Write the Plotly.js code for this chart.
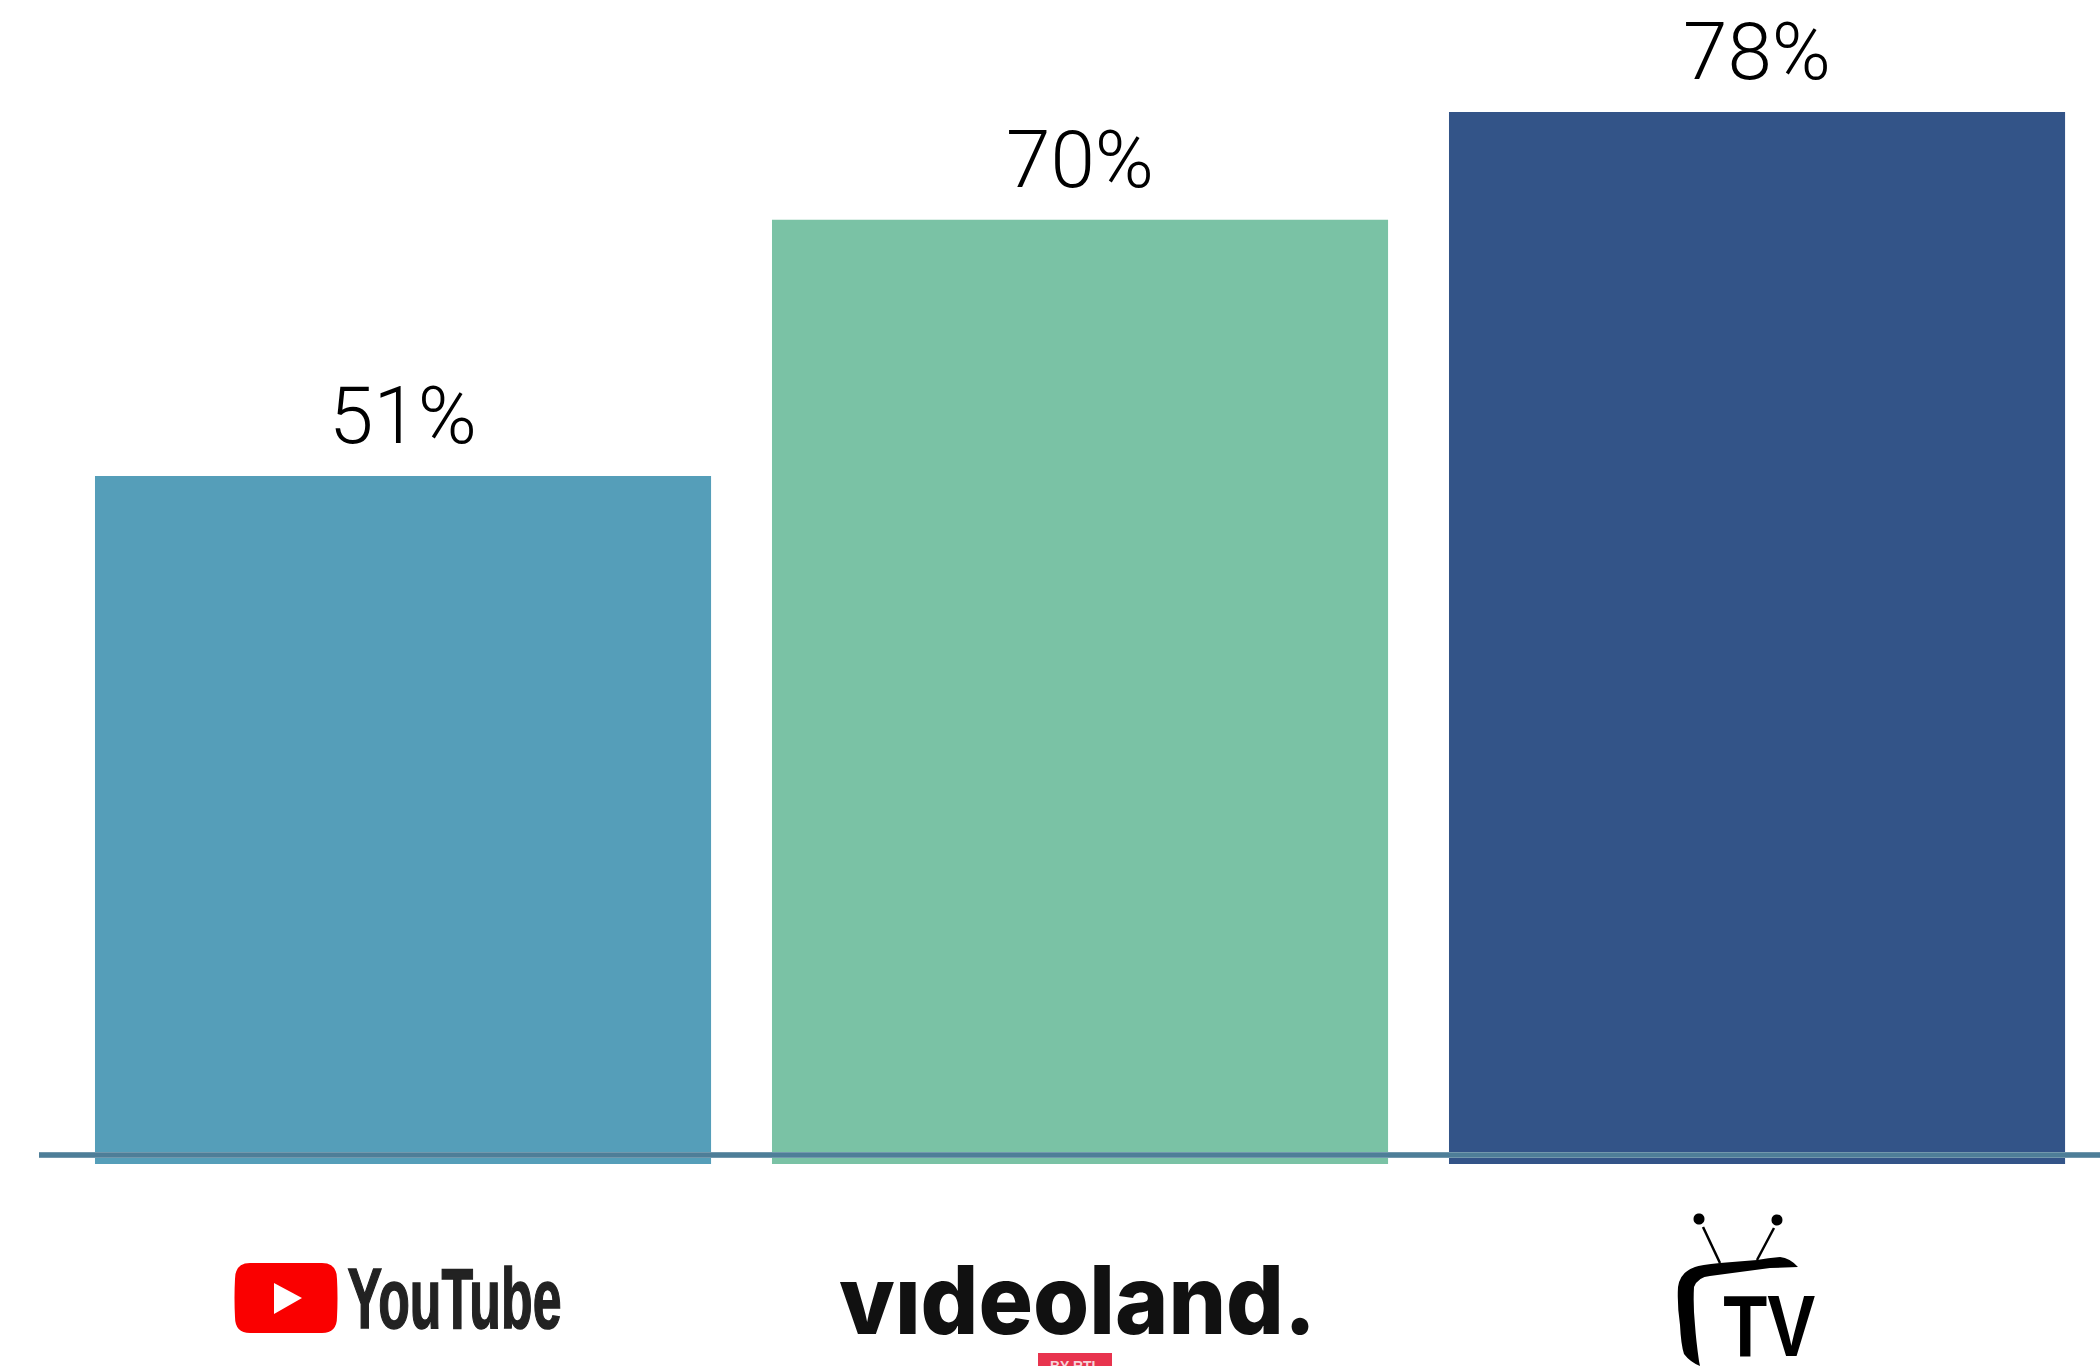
<!DOCTYPE html>
<html>
<head>
<meta charset="utf-8">
<script src="https://cdn.plot.ly/plotly-3.0.1.min.js"></script>
<style>
  html, body { margin: 0; padding: 0; background: #fff; overflow: hidden; }
  #chart { width: 2100px; height: 1366px; }
</style>
</head>
<body>
<div id="chart"></div>
<script>
// Share of viewers per platform
const categories = ["YouTube", "videoland.", "TV"];
const shares = [51, 70, 78];
const barColors = ["#559EB9", "#7AC2A5", "#335488"];

const W = 2100, H = 1366;
const M = { l: 39, r: 0, t: 0, b: 202 };
const plotW = W - M.l - M.r, plotH = H - M.t - M.b;

// Pixel position on the page to paper fractions, used for the brand marks under the axis.
const px = x => +((x - M.l) / plotW).toFixed(5);
const py = y => +((H - M.b - y) / plotH).toFixed(5);
const pathOf = d => d.replace(/(-?[\d.]+) (-?[\d.]+)/g, (_, x, y) => px(+x) + " " + py(+y));

const mark = (d, fill) => ({
  type: "path", xref: "paper", yref: "paper", layer: "above",
  path: pathOf(d), fillcolor: fill, line: { width: 0 }
});
const stroke = (d, color, width) => ({
  type: "path", xref: "paper", yref: "paper", layer: "above",
  path: pathOf(d), line: { color: color, width: width }
});
const dot = (cx, cy, r) => mark(
  `M ${cx - r} ${cy} C ${cx - r} ${cy - r * 1.33} ${cx + r} ${cy - r * 1.33} ${cx + r} ${cy} C ${cx + r} ${cy + r * 1.33} ${cx - r} ${cy + r * 1.33} ${cx - r} ${cy} Z`,
  "#000000"
);

const shapes = [
  // Baseline crossing the bars
  { type: "line", xref: "paper", yref: "paper", layer: "above", x0: 0, x1: 1, y0: py(1155), y1: py(1155),
    line: { color: "#7FA2B5", width: 6 } },
  { type: "line", xref: "paper", yref: "paper", layer: "above", x0: 0, x1: 1, y0: py(1155), y1: py(1155),
    line: { color: "#4E7E98", width: 4.4 } },

  // YouTube play button
  mark("M 250 1263 L 322 1263 Q 337 1263 337 1279 Q 338 1298 337 1317 Q 337 1333 322 1333 L 250 1333 Q 235 1333 235 1317 Q 234 1298 235 1279 Q 235 1263 250 1263 Z", "#FA0000"),
  mark("M 274 1283 L 302 1298 L 274 1314 Z", "#FFFFFF"),

  // videoland badge
  mark("M 1038 1353 L 1112 1353 L 1112 1366 L 1038 1366 Z", "#E8344E"),

  // TV set outline and antennas
  mark("M 1798 1267 Q 1790 1258 1780 1257 Q 1768 1258 1757 1260 L 1720 1263 Q 1700 1265 1695 1267 Q 1680 1272 1678 1287 Q 1677 1305 1680 1325 Q 1681 1345 1684 1354 Q 1690 1362 1700 1366 L 1699 1361 Q 1696 1340 1695 1325 Q 1693 1305 1694 1287 Q 1698 1277 1710 1276 Q 1740 1272 1770 1268 Z", "#000000"),
  stroke("M 1703 1227 L 1720 1263", "#000000", 2.5),
  stroke("M 1774 1228 L 1757 1260", "#000000", 2.5),
  dot(1699, 1219, 5.5),
  dot(1777, 1220, 5.5)
];

// Percent labels sit a fixed distance above their bars.
const valueLabels = categories.map((c, i) => ({
  xref: "x", yref: "y", x: c, y: shares[i], xanchor: "center", yanchor: "bottom", yshift: 12,
  text: shares[i] + "%", showarrow: false, borderpad: 0,
  font: { family: "Roboto", size: 80, weight: 300, color: "#000000" }
}));

const brandText = (text, cx, baselineY, family, size, weight, color) => ({
  xref: "paper", yref: "paper", x: px(cx), y: py(baselineY), xanchor: "center", yanchor: "bottom",
  text: text, showarrow: false, borderpad: 0,
  font: { family: family, size: size, weight: weight, color: color }
});

const brandLabels = [
  brandText("YouTube", 455, 1347, "Liberation Sans Narrow, Liberation Sans", 85, 700, "#222222"),
  brandText("vıdeoland.", 1078, 1358, "Inter", 95, 800, "#111111"),
  brandText("TV", 1770, 1376, "Liberation Sans", 88, 700, "#000000"),
  brandText("BY RTL", 1075, 1375, "Liberation Sans", 15, 700, "#F6D5DA")
];
const brandWidths = [214, 477, 92, 50];
const brandOutline = [1.6, 0, 0, 0];

const trace = {
  type: "bar",
  x: categories,
  y: shares,
  marker: { color: barColors, line: { width: 0 } },
  hoverinfo: "skip"
};

const layout = {
  width: W, height: H,
  margin: { l: M.l, r: M.r, t: M.t, b: M.b, pad: 0 },
  paper_bgcolor: "#FFFFFF",
  plot_bgcolor: "#FFFFFF",
  showlegend: false,
  bargap: 0.09,
  xaxis: {
    type: "category", range: [-0.5377, 2.5066],
    showticklabels: false, showgrid: false, zeroline: false, showline: false, ticks: ""
  },
  yaxis: {
    range: [0, 86.3], showticklabels: false, showgrid: false, zeroline: false, showline: false, ticks: ""
  },
  shapes: shapes,
  annotations: valueLabels.concat(brandLabels)
};

Plotly.newPlot("chart", [trace], layout, { displayModeBar: false, staticPlot: true }).then(gd => {
  // The wordmarks are narrower than any installed face, so squeeze each to its width.
  const texts = gd.querySelectorAll(".annotation-text");
  brandLabels.forEach((_, i) => {
    const el = texts[valueLabels.length + i];
    el.setAttribute("textLength", brandWidths[i]);
    el.setAttribute("lengthAdjust", "spacingAndGlyphs");
    if (brandOutline[i]) {
      el.style.stroke = brandLabels[i].font.color;
      el.style.strokeWidth = brandOutline[i] + "px";
    }
  });
});
</script>
</body>
</html>
